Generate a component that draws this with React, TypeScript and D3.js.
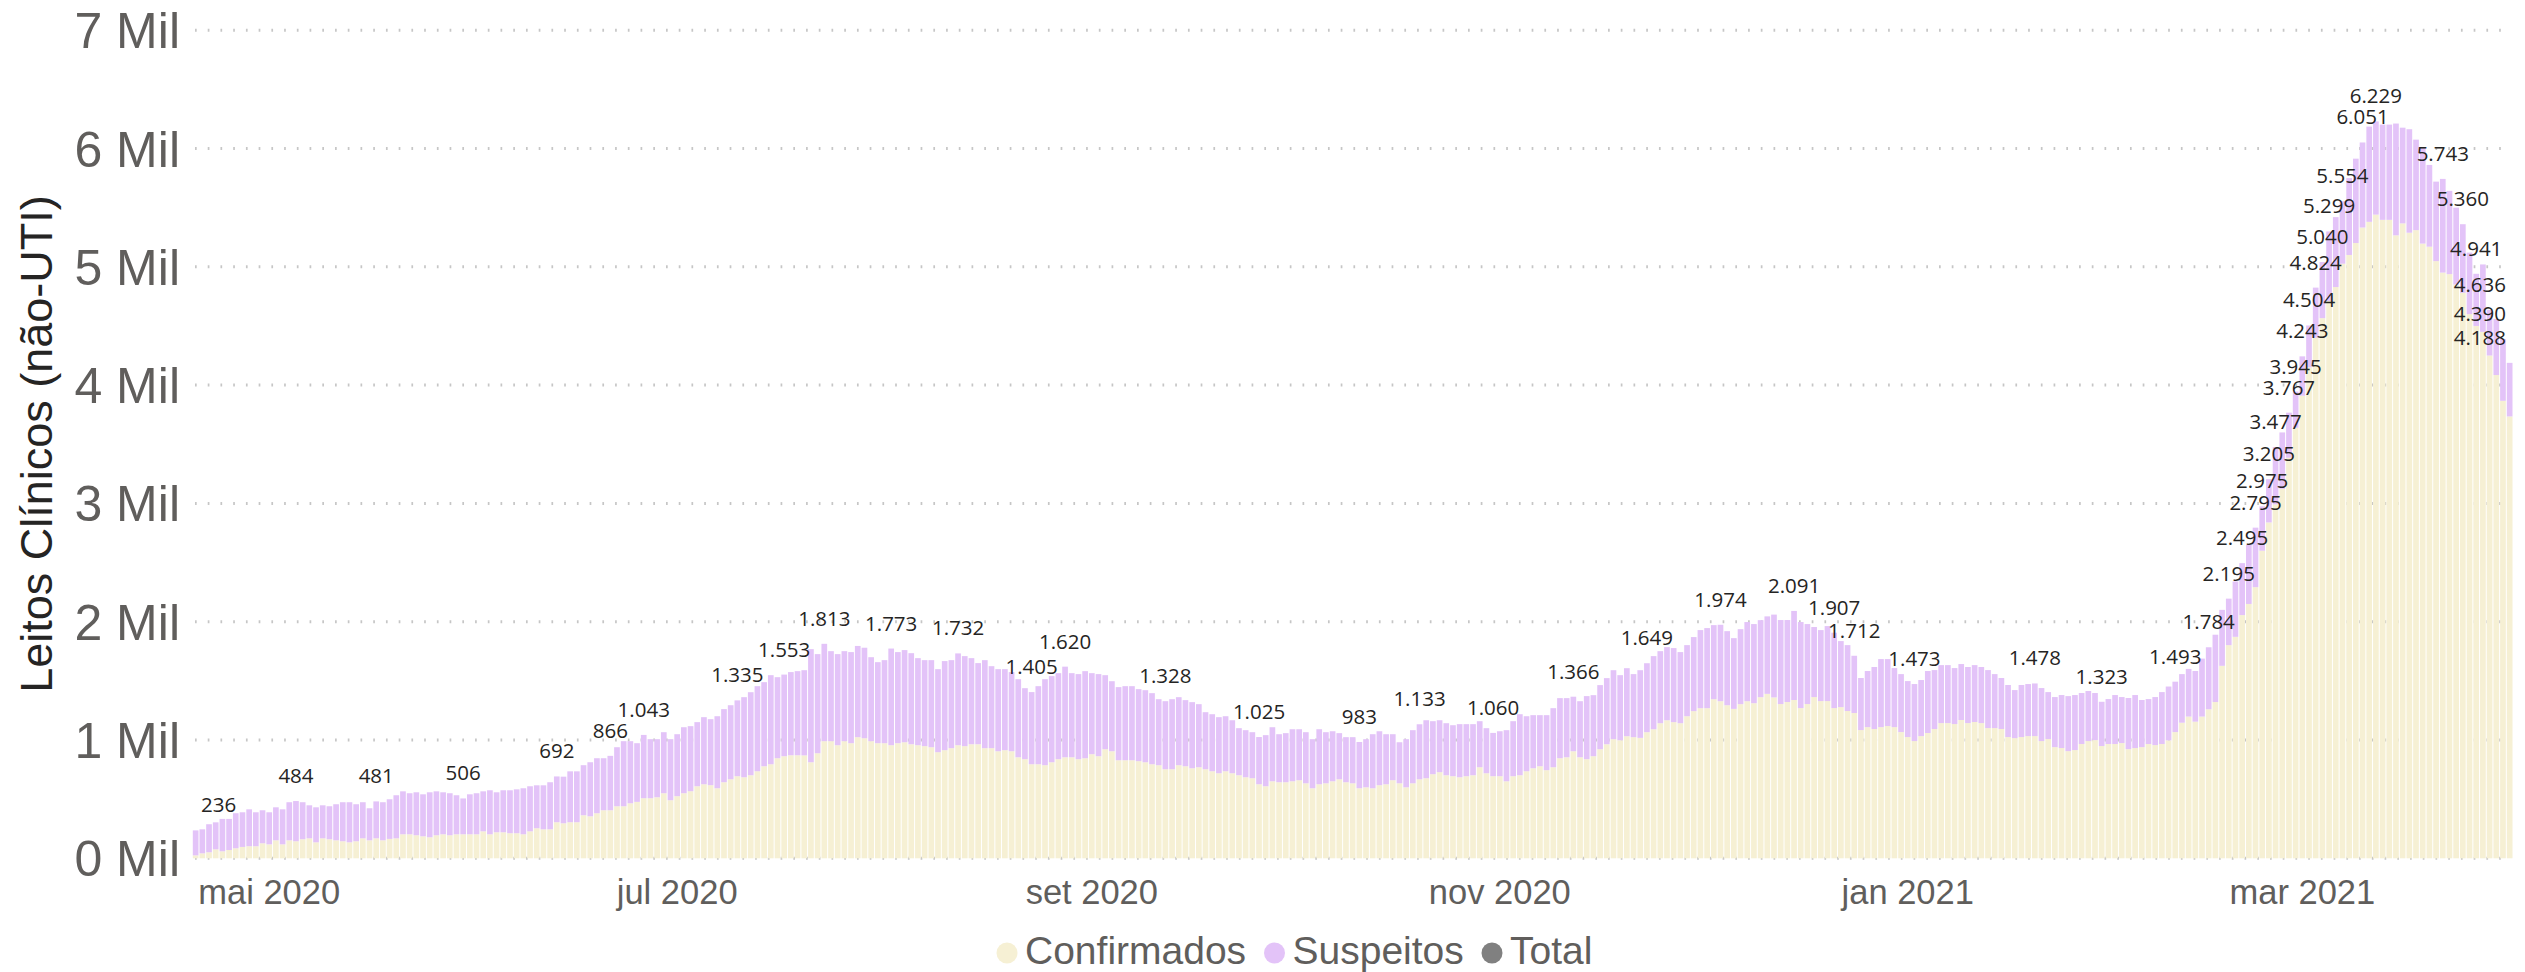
import { useEffect, useRef } from 'react';
import * as d3 from 'd3';

// daily series, first day 20/04/2020
const startDay = '2020-04-20';

const total = [
  236, 245, 288, 304, 333, 333, 381, 389, 414, 389, 406, 389, 431, 414, 474, 484, 474, 448, 431, 448,
  440, 457, 474, 474, 457, 474, 423, 481, 474, 499, 533, 566, 550, 558, 541, 558, 566, 558, 550, 533,
  506, 541, 550, 566, 575, 558, 575, 575, 583, 592, 609, 617, 617, 643, 692, 690, 735, 735, 787, 812,
  846, 846, 866, 939, 990, 990, 973, 1043, 1007, 1007, 1066, 1007, 1049, 1108, 1117, 1151, 1193, 1176, 1201, 1261,
  1294, 1335, 1362, 1404, 1455, 1489, 1548, 1531, 1553, 1574, 1582, 1590, 1768, 1726, 1813, 1751, 1726, 1751, 1743, 1795,
  1780, 1700, 1658, 1675, 1773, 1743, 1760, 1734, 1692, 1675, 1675, 1599, 1667, 1675, 1732, 1709, 1692, 1650, 1675, 1624,
  1599, 1599, 1574, 1514, 1438, 1405, 1455, 1514, 1540, 1565, 1620, 1565, 1557, 1582, 1565, 1557, 1548, 1497, 1447, 1455,
  1455, 1430, 1421, 1396, 1345, 1328, 1345, 1362, 1337, 1320, 1303, 1235, 1218, 1193, 1201, 1167, 1100, 1083, 1066, 1025,
  1041, 1108, 1049, 1058, 1091, 1091, 1066, 1007, 1091, 1066, 1074, 1058, 1024, 1024, 983, 1007, 1049, 1074, 1049, 1049,
  981, 1007, 1083, 1133, 1167, 1159, 1167, 1142, 1125, 1134, 1134, 1134, 1159, 1100, 1060, 1074, 1083, 1159, 1218, 1201,
  1210, 1210, 1210, 1269, 1354, 1354, 1366, 1328, 1371, 1379, 1464, 1523, 1590, 1548, 1607, 1557, 1590, 1649, 1709, 1751,
  1785, 1777, 1743, 1802, 1870, 1929, 1946, 1971, 1974, 1920, 1861, 1937, 1997, 1980, 2013, 2045, 2060, 2014, 2014, 2091,
  1997, 1980, 1955, 1929, 1963, 1907, 1836, 1802, 1712, 1524, 1583, 1617, 1684, 1684, 1608, 1557, 1498, 1473, 1507, 1583,
  1591, 1633, 1633, 1608, 1642, 1617, 1633, 1617, 1591, 1557, 1524, 1465, 1422, 1465, 1473, 1478, 1439, 1405, 1363, 1380,
  1371, 1380, 1397, 1414, 1397, 1323, 1346, 1380, 1363, 1355, 1380, 1338, 1346, 1363, 1405, 1452, 1493, 1557, 1601, 1583,
  1688, 1784, 1890, 2100, 2195, 2340, 2495, 2650, 2795, 2975, 3205, 3477, 3600, 3767, 3945, 4243, 4504, 4824, 5040, 5299,
  5420, 5554, 5750, 5914, 6051, 6185, 6229, 6202, 6202, 6211, 6176, 6163, 6075, 6010, 5861, 5720, 5743, 5642, 5500, 5360,
  5120, 4941, 5020, 4636, 4560, 4390, 4188,
];

const confirmados = [
  25, 42, 51, 76, 59, 70, 85, 96, 102, 102, 127, 118, 152, 118, 152, 144, 161, 169, 135, 169,
  161, 152, 144, 135, 144, 169, 152, 169, 152, 164, 169, 203, 203, 195, 186, 178, 195, 203, 195, 203,
  203, 203, 203, 228, 203, 220, 220, 212, 212, 203, 228, 254, 245, 245, 305, 296, 305, 305, 364, 355,
  381, 406, 406, 440, 440, 465, 477, 508, 508, 516, 550, 491, 525, 550, 567, 609, 626, 618, 592, 643,
  668, 694, 685, 702, 736, 778, 795, 846, 863, 871, 871, 870, 812, 888, 990, 990, 956, 990, 973, 1024,
  1015, 990, 973, 973, 956, 973, 981, 964, 956, 948, 939, 897, 914, 931, 956, 948, 964, 964, 931, 931,
  905, 914, 905, 854, 838, 795, 795, 787, 812, 838, 854, 854, 838, 846, 880, 863, 922, 905, 829, 829,
  829, 821, 812, 795, 787, 753, 753, 787, 778, 761, 770, 753, 736, 719, 736, 719, 702, 685, 677, 626,
  609, 651, 643, 643, 651, 660, 634, 592, 626, 634, 651, 668, 643, 634, 592, 600, 592, 618, 626, 660,
  634, 600, 634, 668, 677, 711, 728, 702, 694, 685, 694, 702, 770, 719, 694, 694, 651, 694, 702, 736,
  761, 778, 745, 770, 846, 854, 905, 854, 838, 863, 922, 964, 1007, 998, 1032, 1024, 1018, 1066, 1091, 1142,
  1167, 1151, 1142, 1201, 1244, 1269, 1269, 1345, 1328, 1294, 1263, 1303, 1328, 1311, 1362, 1390, 1360, 1304, 1321, 1338,
  1270, 1304, 1363, 1329, 1329, 1270, 1278, 1245, 1228, 1084, 1109, 1093, 1109, 1118, 1109, 1067, 1025, 991, 1033, 1059,
  1093, 1143, 1143, 1135, 1169, 1143, 1152, 1143, 1101, 1101, 1093, 1025, 1016, 1025, 1033, 1033, 991, 1008, 940, 932,
  906, 915, 966, 991, 999, 949, 966, 966, 974, 923, 932, 940, 966, 957, 966, 997, 1067, 1146, 1198, 1155,
  1198, 1260, 1321, 1627, 1802, 1872, 2056, 2150, 2292, 2600, 2839, 2992, 3123, 3386, 3639, 3910, 4150, 4400, 4566, 4711,
  4829, 5026, 5100, 5201, 5332, 5380, 5441, 5397, 5397, 5266, 5367, 5288, 5310, 5196, 5170, 5048, 4951, 4938, 4850, 4780,
  4600, 4500, 4450, 4250, 4085, 3867, 3735,
];

// bars that carry a data label (Power BI shows only some)
const labelIdx = [
  0, 15, 27, 40, 54, 62, 67, 81, 88, 94, 104, 114, 125, 130, 145, 159, 174, 183, 194, 206,
  217, 228, 239, 245, 248, 257, 275, 285, 296, 301, 304, 306, 308, 309, 310, 311, 313, 314, 315, 316,
  317, 318, 319, 321, 324, 326, 336, 339, 341, 343, 345, 346,
];

const monthTicks = ['2020-05-01', '2020-07-01', '2020-09-01', '2020-11-01', '2021-01-01', '2021-03-01'];
const monthLabels = ['mai 2020', 'jul 2020', 'set 2020', 'nov 2020', 'jan 2021', 'mar 2021'];
const yTicks = [0, 1000, 2000, 3000, 4000, 5000, 6000, 7000];

const legendNames = ['Confirmados', 'Suspeitos', 'Total'];
const legendColors = ['#F6F0D4', '#E3C3F8', '#808080'];

const App = () => {
  const svgRef = useRef<SVGSVGElement | null>(null);

  useEffect(() => {
    if (!svgRef.current) return;
    const svg = d3.select(svgRef.current);
    svg.selectAll('*').remove();

    const axisFont = '"Liberation Sans", Arial, sans-serif';
    const labelFont = '"Open Sans", "Segoe UI", sans-serif';
    const plotLeft = 192.3;
    const plotRight = 2513;

    const day0 = new Date(startDay + 'T00:00:00Z');
    const rows = total.map((t, i) => ({
      date: d3.utcDay.offset(day0, i),
      confirmados: confirmados[i],
      suspeitos: t - confirmados[i],
      total: t,
    }));

    const halfDay = 12 * 3600 * 1000;
    const x = d3.scaleUtc()
      .domain([new Date(+rows[0].date - halfDay), new Date(+rows[rows.length - 1].date + halfDay)])
      .range([plotLeft, plotRight]);
    const y = d3.scaleLinear().domain([0, 7000]).range([858.3, 30.2]);
    const step = x(rows[1].date) - x(rows[0].date);
    const barW = step - 1;

    // gridlines (dotted)
    svg.append('g')
      .selectAll('line')
      .data(yTicks)
      .join('line')
      .attr('x1', 195)
      .attr('x2', 2510)
      .attr('y1', (d) => y(d))
      .attr('y2', (d) => y(d))
      .attr('stroke', '#c6c6c6')
      .attr('stroke-width', 3)
      .attr('stroke-dasharray', '1.7 11.03');

    // y tick labels
    svg.append('g')
      .selectAll('text')
      .data(yTicks)
      .join('text')
      .attr('x', 180)
      .attr('y', (d) => y(d))
      .attr('dy', '0.36em')
      .attr('text-anchor', 'end')
      .attr('font-family', axisFont)
      .attr('font-size', 50)
      .attr('fill', '#605E5C')
      .text((d) => `${d / 1000} Mil`);

    // y axis title
    svg.append('text')
      .attr('transform', 'translate(52,444) rotate(-90)')
      .attr('text-anchor', 'middle')
      .attr('font-family', axisFont)
      .attr('font-size', 45)
      .attr('fill', '#252423')
      .text('Leitos Clínicos (não-UTI)');

    // stacked bars
    const stack = d3.stack<any>().keys(['confirmados', 'suspeitos'])(rows);
    svg.append('g')
      .selectAll('g')
      .data(stack)
      .join('g')
      .attr('fill', (_, i) => legendColors[i])
      .selectAll('rect')
      .data((s) => s)
      .join('rect')
      .attr('x', (d) => x(d.data.date) - barW / 2)
      .attr('width', barW)
      .attr('y', (d) => y(d[1]))
      .attr('height', (d) => y(d[0]) - y(d[1]));

    // x tick labels
    svg.append('g')
      .selectAll('text')
      .data(monthTicks)
      .join('text')
      .attr('x', (d) => x(new Date(d + 'T00:00:00Z')))
      .attr('y', 904)
      .attr('text-anchor', 'middle')
      .attr('font-family', axisFont)
      .attr('font-size', 34.5)
      .attr('fill', '#605E5C')
      .text((_, i) => monthLabels[i]);

    // data labels (pt-BR thousands)
    const ptBR = d3.formatLocale({ decimal: ',', thousands: '.', grouping: [3], currency: ['R$', ''] });
    const fmt = ptBR.format(',d');
    const labels = svg.append('g')
      .selectAll('text')
      .data(labelIdx)
      .join('text')
      .attr('x', (i) => x(rows[i].date))
      .attr('y', (i) => y(rows[i].total) - 18)
      .attr('text-anchor', 'middle')
      .attr('font-family', labelFont)
      .attr('font-size', 20.5)
      .attr('fill', '#252423')
      .text((i) => fmt(rows[i].total));

    // keep labels inside the plot, like Power BI does
    labels.each(function (i) {
      const el = this as SVGTextElement;
      const w = el.getComputedTextLength();
      let cx = x(rows[i].date);
      if (cx - w / 2 < 201) cx = 201 + w / 2;
      if (cx + w / 2 > 2506) cx = 2506 - w / 2;
      d3.select(el).attr('x', cx);
    });

    // legend
    const legendX = [1007, 1274.5, 1492];
    const legend = svg.append('g');
    legendNames.forEach((name, i) => {
      legend.append('circle')
        .attr('cx', legendX[i])
        .attr('cy', 953)
        .attr('r', 10.5)
        .attr('fill', legendColors[i]);
      legend.append('text')
        .attr('x', legendX[i] + 18)
        .attr('y', 964)
        .attr('font-family', axisFont)
        .attr('font-size', 39)
        .attr('fill', '#605E5C')
        .text(name);
    });
  }, []);

  return (
    <svg
      ref={svgRef}
      width={2525}
      height={972}
      style={{ position: 'absolute', left: 0, top: 0, background: '#ffffff' }}
    />
  );
};

export default App;
